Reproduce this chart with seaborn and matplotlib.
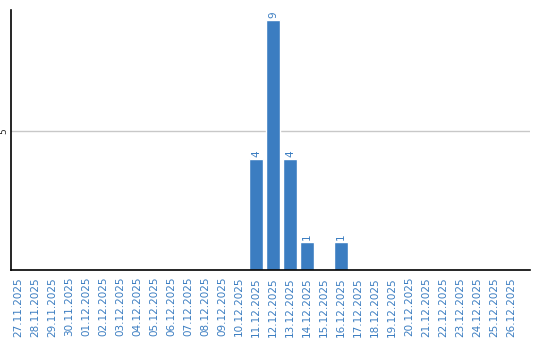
import matplotlib
matplotlib.use("Agg")
import matplotlib.pyplot as plt
import seaborn as sns
import pandas as pd

dates = ["27.11.2025", "28.11.2025", "29.11.2025", "30.11.2025", "01.12.2025",
         "02.12.2025", "03.12.2025", "04.12.2025", "05.12.2025", "06.12.2025",
         "07.12.2025", "08.12.2025", "09.12.2025", "10.12.2025", "11.12.2025",
         "12.12.2025", "13.12.2025", "14.12.2025", "15.12.2025", "16.12.2025",
         "17.12.2025", "18.12.2025", "19.12.2025", "20.12.2025", "21.12.2025",
         "22.12.2025", "23.12.2025", "24.12.2025", "25.12.2025", "26.12.2025"]
counts = [0, 0, 0, 0, 0, 0, 0, 0, 0, 0, 0, 0, 0, 0, 4,
          9, 4, 1, 0, 1, 0, 0, 0, 0, 0, 0, 0, 0, 0, 0]

df = pd.DataFrame({"date": dates, "count": counts})

sns.set_style("white")
plt.rcParams['font.family'] = ['DejaVu Sans']

fig = plt.figure(figsize=(5.4, 3.4), dpi=100)
ax = fig.add_axes([10.5/540, 70/340, 519.5/540, 260/340])

blue = "#3b7dc1"
sns.barplot(data=df, x="date", y="count", color=blue, saturation=1, width=0.82, ax=ax)

ax.set_ylim(0, 9.35)
ax.set_xlim(-0.44, 30.12)
ax.set_yticks([5])
ax.set_yticklabels(["5"], rotation=90, va="center", fontsize=6.5)
ax.yaxis.grid(True, color="#c8c8c8", linewidth=1)
ax.set_axisbelow(True)
ax.tick_params(axis="y", length=0, pad=1.5)
ax.tick_params(axis="x", length=0, labelrotation=90, labelsize=7.5, labelcolor=blue, pad=5)
ax.set_xlabel("")
ax.set_ylabel("")

for s in ["top", "right"]:
    ax.spines[s].set_visible(False)
for s in ["left", "bottom"]:
    ax.spines[s].set_color("black")
    ax.spines[s].set_linewidth(1.2)

for i, v in enumerate(counts):
    if v > 0:
        ax.text(i, v + 0.08, str(v), rotation=90, ha="center", va="bottom",
                fontsize=7.5, color=blue)

fig.savefig("out.png", dpi=100)
